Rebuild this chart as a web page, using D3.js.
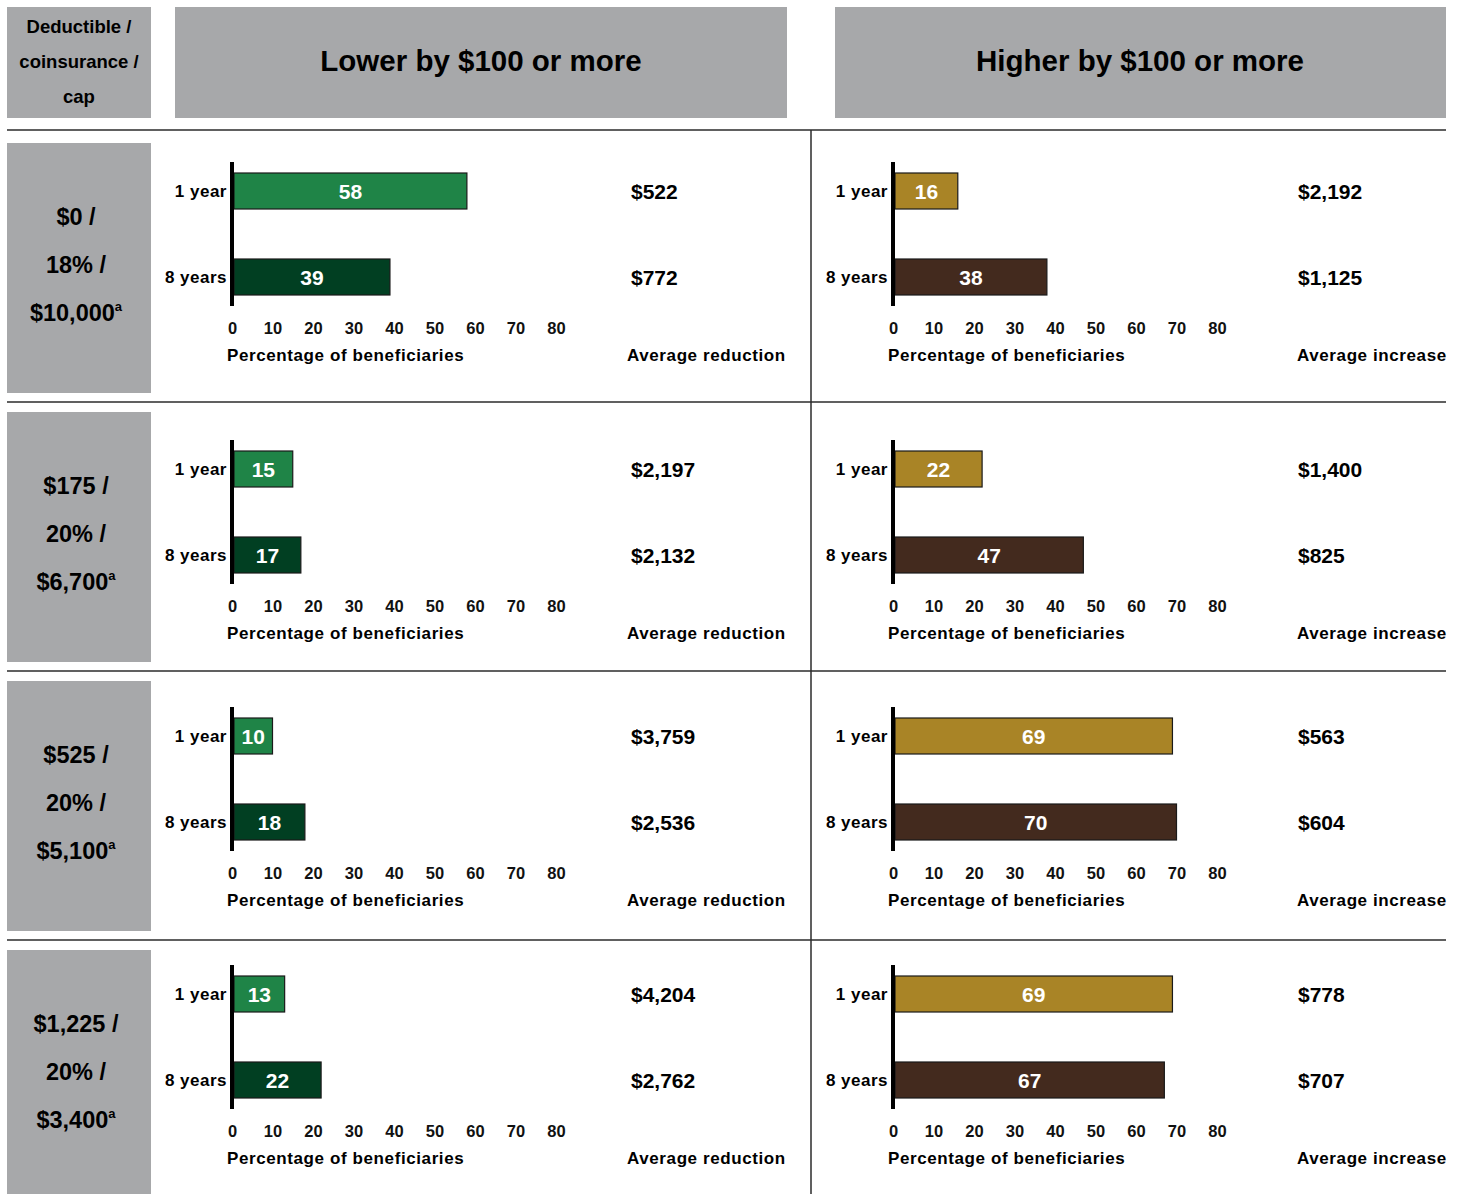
<!DOCTYPE html>
<html>
<head>
<meta charset="utf-8">
<script src="https://cdnjs.cloudflare.com/ajax/libs/d3/7.8.5/d3.min.js"></script>
<style>
    body { margin: 0; background: #fff; }
    text { font-family: "Liberation Sans", Arial, sans-serif; font-weight: bold; }
</style>
</head>
<body>
<div id="chart"></div>
<script>
// plan labels (deductible / coinsurance / cap)
const planLines = [
    ["$0 /", "18% /", "$10,000"],
    ["$175 /", "20% /", "$6,700"],
    ["$525 /", "20% /", "$5,100"],
    ["$1,225 /", "20% /", "$3,400"]
];
const periods = ["1 year", "8 years"];
const ticks = [0, 10, 20, 30, 40, 50, 60, 70, 80];

// percentage of beneficiaries, lower by $100 or more
const lower1yr = [58, 15, 10, 13];
const lower8yr = [39, 17, 18, 22];
const lowerAvg1yr = ["$522", "$2,197", "$3,759", "$4,204"];
const lowerAvg8yr = ["$772", "$2,132", "$2,536", "$2,762"];

// percentage of beneficiaries, higher by $100 or more
const higher1yr = [16, 22, 69, 69];
const higher8yr = [38, 47, 70, 67];
const higherAvg1yr = ["$2,192", "$1,400", "$563", "$778"];
const higherAvg8yr = ["$1,125", "$825", "$604", "$707"];

const W = 1465, H = 1194;
const gray = "#a7a8aa";

const svg = d3.select("#chart").append("svg")
    .attr("width", W)
    .attr("height", H);

// header boxes
svg.append("rect").attr("x", 7).attr("y", 7).attr("width", 144).attr("height", 111).attr("fill", gray);
svg.append("rect").attr("x", 175).attr("y", 7).attr("width", 612).attr("height", 111).attr("fill", gray);
svg.append("rect").attr("x", 835).attr("y", 7).attr("width", 611).attr("height", 111).attr("fill", gray);

["Deductible /", "coinsurance /", "cap"].forEach(function (t, i) {
    svg.append("text")
        .attr("x", 79).attr("y", 27 + i * 35)
        .attr("dy", "0.35em")
        .attr("text-anchor", "middle")
        .style("font-size", "18.5px")
        .text(t);
});
svg.append("text").attr("x", 481).attr("y", 61).attr("dy", "0.35em")
    .attr("text-anchor", "middle").style("font-size", "29.5px").text("Lower by $100 or more");
svg.append("text").attr("x", 1140).attr("y", 61).attr("dy", "0.35em")
    .attr("text-anchor", "middle").style("font-size", "29.5px").text("Higher by $100 or more");

// row positions
const rowTop = [143, 412, 681, 950];
const rowMid = [191, 469, 736, 994];   // centre of the "1 year" bar
const rules = [130, 402, 671, 940];

rules.forEach(function (y) {
    svg.append("line")
        .attr("x1", 7).attr("x2", 1446)
        .attr("y1", y).attr("y2", y)
        .attr("stroke", "#2b2b2b").attr("stroke-width", 1.5);
});
svg.append("line")
    .attr("x1", 811).attr("x2", 811)
    .attr("y1", 130).attr("y2", H)
    .attr("stroke", "#2b2b2b").attr("stroke-width", 1.5);

const panels = [
    { x0: 232, one: lower1yr, eight: lower8yr, avg1: lowerAvg1yr, avg8: lowerAvg8yr,
      colors: ["#1f8447", "#013f22"], avgX: 631, avgTitleX: 627, avgTitle: "Average reduction" },
    { x0: 893, one: higher1yr, eight: higher8yr, avg1: higherAvg1yr, avg8: higherAvg8yr,
      colors: ["#a98426", "#432a1e"], avgX: 1298, avgTitleX: 1297, avgTitle: "Average increase" }
];

rowTop.forEach(function (top, r) {
    // gray plan label box
    svg.append("rect").attr("x", 7).attr("y", top).attr("width", 144).attr("height", 250).attr("fill", gray);
    planLines[r].forEach(function (t, i) {
        const txt = svg.append("text")
            .attr("x", 76).attr("y", top + 74 + i * 48)
            .attr("dy", "0.35em")
            .attr("text-anchor", "middle")
            .style("font-size", "23.5px")
            .text(t);
        if (i === 2) {
            txt.append("tspan").style("font-size", "13px").attr("dy", "-0.75em").text("a");
        }
    });

    const cy = rowMid[r];

    panels.forEach(function (p) {
        const x = d3.scaleLinear().domain([0, 80]).range([p.x0, p.x0 + 4.05 * 80]);
        const bh = 36;
        const vals = [p.one[r], p.eight[r]];
        const avgs = [p.avg1[r], p.avg8[r]];
        const g = svg.append("g");

        g.selectAll(".bar")
            .data(periods)
            .enter().append("rect")
            .attr("class", "bar")
            .attr("x", x(0) + 2)
            .attr("y", function (d, i) { return cy - bh / 2 + i * 86; })
            .attr("width", function (d, i) { return x(vals[i]) - x(0) - 2; })
            .attr("height", bh)
            .attr("fill", function (d, i) { return p.colors[i]; })
            .attr("stroke", "#1a1a1a")
            .attr("stroke-width", 1.2);

        g.selectAll(".val")
            .data(periods)
            .enter().append("text")
            .attr("x", function (d, i) { return (x(0) + x(vals[i])) / 2 + 1; })
            .attr("y", function (d, i) { return cy + 1 + i * 86; })
            .attr("dy", "0.35em")
            .attr("text-anchor", "middle")
            .attr("fill", "#fff")
            .style("font-size", "21px")
            .text(function (d, i) { return vals[i]; });

        g.selectAll(".cat")
            .data(periods)
            .enter().append("text")
            .attr("x", x(0) - 5)
            .attr("y", function (d, i) { return cy + i * 86; })
            .attr("dy", "0.35em")
            .attr("text-anchor", "end")
            .style("font-size", "17px")
            .style("letter-spacing", "0.5px")
            .text(function (d) { return d; });

        g.selectAll(".avg")
            .data(periods)
            .enter().append("text")
            .attr("x", p.avgX)
            .attr("y", function (d, i) { return cy + 1 + i * 86; })
            .attr("dy", "0.35em")
            .style("font-size", "21px")
            .text(function (d, i) { return avgs[i]; });

        // vertical axis line
        g.append("line")
            .attr("x1", x(0)).attr("x2", x(0))
            .attr("y1", cy - 29).attr("y2", cy + 86 + 29)
            .attr("stroke", "#000").attr("stroke-width", 4);

        // x axis ticks
        const ax = g.append("g")
            .attr("transform", "translate(0," + (cy + 137) + ")")
            .call(d3.axisBottom(x).tickValues(ticks).tickSize(0).tickPadding(0));
        ax.select(".domain").remove();
        ax.selectAll("text")
            .attr("y", 0)
            .attr("dy", "0.35em")
            .attr("fill", "#111")
            .style("font-family", "'Liberation Sans', Arial, sans-serif")
            .style("font-weight", "bold")
            .style("font-size", "16.5px");

        g.append("text")
            .attr("x", x(0) - 5)
            .attr("y", cy + 164)
            .attr("dy", "0.35em")
            .style("font-size", "17px")
            .style("letter-spacing", "0.6px")
            .text("Percentage of beneficiaries");

        g.append("text")
            .attr("x", p.avgTitleX)
            .attr("y", cy + 164)
            .attr("dy", "0.35em")
            .style("font-size", "17px")
            .style("letter-spacing", "0.6px")
            .text(p.avgTitle);
    });
});
</script>
</body>
</html>
